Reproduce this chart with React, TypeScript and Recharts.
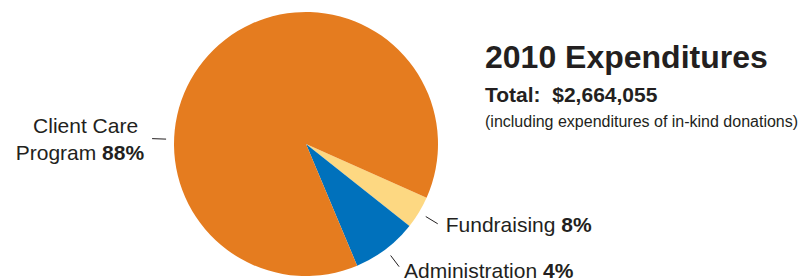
import { PieChart, Pie, Cell } from 'recharts';

const categories = ['Fundraising', 'Administration', 'Client Care Program'];
const sliceValues = [4, 8, 88];
const labelPercents = ['8%', '4%', '88%'];
const sliceColors = ['#FDD882', '#0071BC', '#E57C1F'];

const titleText = '2010 Expenditures';
const totalText = 'Total:  $2,664,055';
const noteText = '(including expenditures of in-kind donations)';

const data = categories.map((name, i) => ({ name, value: sliceValues[i] }));

const RADIAN = Math.PI / 180;
const FONT = 'Liberation Sans, Arial, Helvetica, sans-serif';
const INK = '#231f20';

const renderLabel = (props: any) => {
  const { cx, cy, midAngle, outerRadius, index } = props;
  // client care leader sits on the left, not at the slice middle
  const angle = index === 2 ? 178 : midAngle;
  const cos = Math.cos(-angle * RADIAN);
  const sin = Math.sin(-angle * RADIAN);
  const x1 = cx + (outerRadius + 8) * cos;
  const y1 = cy + (outerRadius + 8) * sin;
  const x2 = cx + (outerRadius + 22) * cos;
  const y2 = cy + (outerRadius + 22) * sin;

  let text;
  if (index === 0) {
    text = (
      <text x={x2 + 8} y={y2 + 8} fontSize={21} fill={INK} fontFamily={FONT}>
        {categories[0]} <tspan fontWeight="bold">{labelPercents[0]}</tspan>
      </text>
    );
  } else if (index === 1) {
    text = (
      <text x={x2 + 5} y={y2 + 11} fontSize={21} fill={INK} fontFamily={FONT}>
        {categories[1]} <tspan fontWeight="bold">{labelPercents[1]}</tspan>
      </text>
    );
  } else {
    text = (
      <text fontSize={21} fill={INK} fontFamily={FONT}>
        <tspan x={x2 - 14} y={y2 - 6} textAnchor="end">Client Care</tspan>
        <tspan x={x2 - 8} y={y2 + 21} textAnchor="end">
          Program <tspan fontWeight="bold">{labelPercents[2]}</tspan>
        </tspan>
      </text>
    );
  }

  return (
    <g key={`label-${index}`}>
      <line x1={x1} y1={y1} x2={x2} y2={y2} stroke={INK} strokeWidth={1} />
      {text}
    </g>
  );
};

const App = () => {
  return (
    <div style={{ position: 'absolute', left: 0, top: 0, width: 799, height: 280, background: '#fff' }}>
      <PieChart width={799} height={280} margin={{ top: 0, right: 0, bottom: 0, left: 0 }}>
        <Pie
          data={data}
          dataKey="value"
          nameKey="name"
          cx={306}
          cy={144}
          outerRadius={132}
          startAngle={-24}
          endAngle={-384}
          stroke="none"
          labelLine={false}
          label={renderLabel}
          isAnimationActive={false}
        >
          {data.map((entry, index) => (
            <Cell key={`cell-${index}`} fill={sliceColors[index]} />
          ))}
        </Pie>
      </PieChart>
      <svg width={799} height={280} style={{ position: 'absolute', left: 0, top: 0, pointerEvents: 'none' }}>
        <text x={485} y={68} fontSize={32} fontWeight="bold" fill={INK} fontFamily={FONT}>
          {titleText}
        </text>
        <text x={485} y={102} fontSize={21} fontWeight="bold" fill={INK} fontFamily={FONT} style={{ whiteSpace: 'pre' }}>
          {totalText}
        </text>
        <text x={485} y={127} fontSize={16} fill={INK} fontFamily={FONT}>
          {noteText}
        </text>
      </svg>
    </div>
  );
};

export default App;
